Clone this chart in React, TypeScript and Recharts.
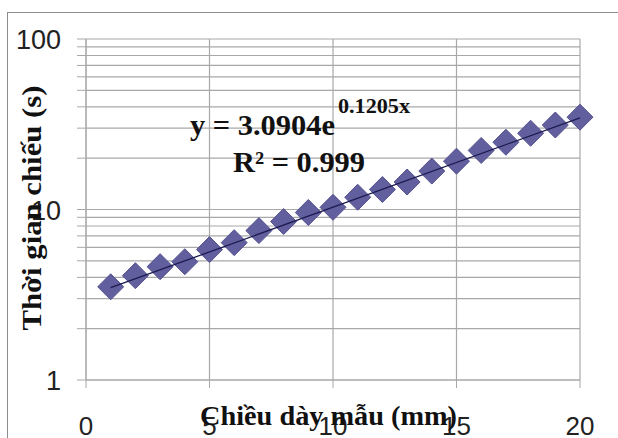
import { ScatterChart, Scatter, XAxis, YAxis, CartesianGrid } from "recharts";

// chiều dày (mm) vs thời gian chiếu (s)
const thickness = [1, 2, 3, 4, 5, 6, 7, 8, 9, 10, 11, 12, 13, 14, 15, 16, 17, 18, 19, 20];
const exposure = [3.52, 4.09, 4.62, 4.94, 5.82, 6.39, 7.52, 8.5, 9.6, 10.3, 11.8, 13.1, 14.5, 16.8, 19.2, 22.2, 24.8, 28.0, 31.3, 34.8];

// exponential trendline ends (straight on log axis)
const trendX = [1, 20];
const trendY = [3.48, 34.5];

const xTicks = [0, 5, 10, 15, 20];
const yTicks = [1, 2, 3, 4, 5, 6, 7, 8, 9, 10, 20, 30, 40, 50, 60, 70, 80, 90, 100];
const yLabels = [1, 10, 100];

const points = thickness.map((x, i) => ({ x, y: exposure[i] }));
const trend = trendX.map((x, i) => ({ x, y: trendY[i] }));

const W = 618;
const H = 438;
const tickFont = "'Liberation Sans', Arial, sans-serif";
const titleFont = "'Liberation Serif', 'Times New Roman', serif";

function Diamond(props: any) {
  const { cx, cy } = props;
  const r = 13;
  return (
    <polygon
      points={`${cx},${cy - r} ${cx + r},${cy} ${cx},${cy + r} ${cx - r},${cy}`}
      fill="#625f9e"
      stroke="#54518f"
      strokeWidth={1}
    />
  );
}

function XTick(props: any) {
  const { x, y, payload } = props;
  return (
    <text x={x} y={y + 36} textAnchor="middle" dominantBaseline="central" fontSize={26} fill="#222" fontFamily={tickFont}>
      {payload.value}
    </text>
  );
}

function YTick(props: any) {
  const { x, y, payload } = props;
  if (!yLabels.includes(payload.value)) return <g />;
  return (
    <text x={x} y={y + 1} textAnchor="end" dominantBaseline="central" fontSize={27} fill="#222" fontFamily={tickFont}>
      {payload.value}
    </text>
  );
}

export default function App() {
  return (
    <div style={{ position: "absolute", left: 0, top: 0, width: W, height: H, background: "#fff" }}>
      <div
        style={{
          position: "absolute",
          left: 7,
          top: 12,
          width: W - 7,
          height: H - 12,
          borderTop: "1.5px solid #8c8c8c",
          borderLeft: "1.5px solid #8c8c8c",
        }}
      />
      <ScatterChart width={W} height={H} margin={{ top: 39, right: 38, bottom: 8, left: 0 }} style={{ position: "absolute", left: 0, top: 0 }}>
        <CartesianGrid stroke="#a8a8a8" strokeWidth={1.2} />
        <XAxis
          type="number"
          dataKey="x"
          domain={[0, 20]}
          ticks={xTicks}
          interval={0}
          height={50}
          tickSize={8}
          stroke="#a8a8a8"
          tick={<XTick />}
        />
        <YAxis
          type="number"
          dataKey="y"
          scale="log"
          domain={[1, 100]}
          allowDataOverflow
          ticks={yTicks}
          interval={0}
          width={86}
          tickSize={9}
          tickMargin={16}
          stroke="#a8a8a8"
          tick={<YTick />}
        />
        <Scatter data={points} shape={<Diamond />} isAnimationActive={false} />
        <Scatter
          data={trend}
          line={{ stroke: "#1c1b50", strokeWidth: 1.3 }}
          shape={() => <g />}
          isAnimationActive={false}
        />
      </ScatterChart>
      <svg width={W} height={H} style={{ position: "absolute", left: 0, top: 0, pointerEvents: "none" }}>
        <text
          x={41}
          y={208}
          transform="rotate(-90 41 208)"
          textAnchor="middle"
          fontFamily={titleFont}
          fontWeight="bold"
          fontSize={27}
          fill="#111"
          textLength={245}
          lengthAdjust="spacingAndGlyphs"
        >
          Thời gian chiếu (s)
        </text>
        <text x={200} y={425} fontFamily={titleFont} fontWeight="bold" fontSize={27} fill="#111" textLength={257} lengthAdjust="spacingAndGlyphs">
          Chiều dày mẫu (mm)
        </text>
        <text x={190} y={135} fontFamily={titleFont} fontWeight="bold" fontSize={30} fill="#111" textLength={145} lengthAdjust="spacingAndGlyphs">
          y = 3.0904e
        </text>
        <text x={338} y={113} fontFamily={titleFont} fontWeight="bold" fontSize={20} fill="#111" textLength={72} lengthAdjust="spacingAndGlyphs">
          0.1205x
        </text>
        <text x={233} y={172} fontFamily={titleFont} fontWeight="bold" fontSize={30} fill="#111" textLength={132} lengthAdjust="spacingAndGlyphs">
          R² = 0.999
        </text>
      </svg>
    </div>
  );
}
